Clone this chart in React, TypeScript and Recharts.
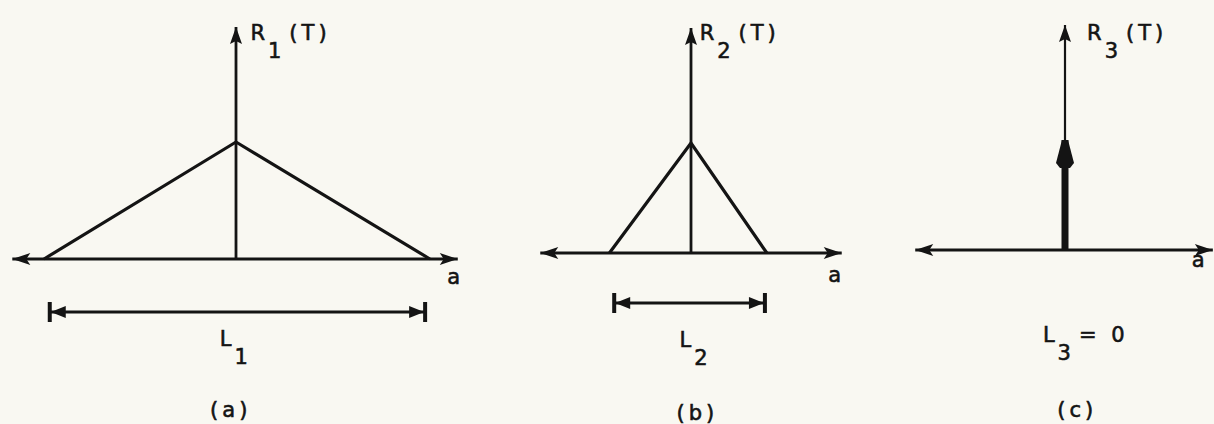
import React from "react"
import { LineChart, Line, XAxis, YAxis } from "recharts"

// R(τ) sketches for three widths L; a is the lag axis, r the correlation value
type Pt = { a: number; r: number; head?: string }
type Lbl = { a: number; r: number; main: string; sub?: string; tail?: string }

// (a) wide triangle
const triangle1: Pt[] = [{ a: -2.0, r: 0 }, { a: 0, r: 1.17 }, { a: 2.02, r: 0 }]
const axisX1: Pt[] = [{ a: -2.33, r: 0, head: "left" }, { a: 2.31, r: 0, head: "right" }]
const axisY1: Pt[] = [{ a: 0, r: 0 }, { a: 0, r: 2.32, head: "up" }]
const span1: Pt[] = [{ a: -1.94, r: -0.53, head: "barL" }, { a: 1.97, r: -0.53, head: "barR" }]

// (b) narrow triangle
const triangle2: Pt[] = [{ a: -0.85, r: 0 }, { a: 0, r: 1.1 }, { a: 0.79, r: 0 }]
const axisX2: Pt[] = [{ a: -1.57, r: 0, head: "left" }, { a: 1.57, r: 0, head: "right" }]
const axisY2: Pt[] = [{ a: 0, r: 0 }, { a: 0, r: 2.25, head: "up" }]
const span2: Pt[] = [{ a: -0.8, r: -0.5, head: "barL" }, { a: 0.77, r: -0.5, head: "barR" }]

// (c) impulse, L3 = 0
const spike3: Pt[] = [{ a: 0, r: 0 }, { a: 0, r: 1.1, head: "spike" }]
const axisX3: Pt[] = [{ a: -1.56, r: 0, head: "left" }, { a: 1.54, r: 0, head: "right" }]
const axisY3: Pt[] = [{ a: 0, r: 0 }, { a: 0, r: 2.25, head: "up" }]

const labels1: Lbl[] = [
  { a: 0.15, r: 2.19, main: "R", sub: "1", tail: "(T)" },
  { a: 2.2, r: -0.25, main: "a" },
  { a: -0.17, r: -0.87, main: "L", sub: "1" },
  { a: -0.27, r: -1.58, main: "(a)" },
]
const labels2: Lbl[] = [
  { a: 0.09, r: 2.13, main: "R", sub: "2", tail: "(T)" },
  { a: 1.43, r: -0.29, main: "a" },
  { a: -0.12, r: -0.94, main: "L", sub: "2" },
  { a: -0.15, r: -1.67, main: "(b)" },
]
const labels3: Lbl[] = [
  { a: 0.23, r: 2.1, main: "R", sub: "3", tail: "(T)" },
  { a: 1.32, r: -0.17, main: "a" },
  { a: -0.23, r: -0.92, main: "L", sub: "3", tail: "= 0" },
  { a: -0.08, r: -1.67, main: "(c)" },
]

const SX = 96
const SY = 100
const H = 424
const INK = "#141414"
const FONT = "'DejaVu Sans', sans-serif"

const renderHead = (props: any) => {
  const { cx, cy, payload, index } = props
  const k = `h-${index}-${cx}-${cy}`
  const h = payload?.head
  if (!h || cx == null || cy == null) return <g key={k} />
  if (h === "right")
    return <polygon key={k} points={`${cx},${cy} ${cx - 18},${cy - 6} ${cx - 14},${cy} ${cx - 18},${cy + 6}`} fill={INK} />
  if (h === "left")
    return <polygon key={k} points={`${cx},${cy} ${cx + 18},${cy - 6} ${cx + 14},${cy} ${cx + 18},${cy + 6}`} fill={INK} />
  if (h === "up")
    return <polygon key={k} points={`${cx},${cy} ${cx - 6},${cy + 17} ${cx},${cy + 14} ${cx + 6},${cy + 17}`} fill={INK} />
  if (h === "spike")
    return (
      <polygon
        key={k}
        points={`${cx - 3},${cy} ${cx + 3},${cy} ${cx + 9},${cy + 23} ${cx + 5},${cy + 28} ${cx - 5},${cy + 28} ${cx - 9},${cy + 23}`}
        fill={INK}
      />
    )
  const dir = h === "barL" ? 1 : -1
  return (
    <g key={k}>
      <line x1={cx} y1={cy - 10} x2={cx} y2={cy + 10} stroke={INK} strokeWidth={4} />
      <polygon points={`${cx + dir},${cy} ${cx + dir * 16},${cy - 6} ${cx + dir * 16},${cy + 6}`} fill={INK} />
    </g>
  )
}

const renderLabel = (props: any) => {
  const { cx, cy, payload, index } = props
  const k = `l-${index}`
  if (cx == null || cy == null) return <g key={k} />
  const p = payload as Lbl
  return (
    <text
      key={k}
      x={cx}
      y={cy}
      fontFamily={FONT}
      fontSize={21}
      fill={INK}
      stroke={INK}
      strokeWidth={0.6}
      letterSpacing={p.sub || p.main.length > 1 ? 4 : 0}
    >
      {p.main}
      {p.sub && (
        <tspan dx={-1} dy={18}>
          {p.sub}
        </tspan>
      )}
      {p.tail && (
        <tspan dx={4} dy={-18}>
          {p.tail}
        </tspan>
      )}
    </text>
  )
}

function Panel({ left, width, ox, oy, series, labels }: any) {
  const xd = [-ox / SX, (width - ox) / SX]
  const yd = [-(H - oy) / SY, oy / SY]
  return (
    <div style={{ position: "absolute", left, top: 0 }}>
      <LineChart width={width} height={H} margin={{ top: 0, right: 0, bottom: 0, left: 0 }}>
        <XAxis type="number" dataKey="a" domain={xd} hide allowDataOverflow />
        <YAxis type="number" domain={yd} hide allowDataOverflow />
        {series.map((s: any, i: number) => (
          <Line
            key={i}
            data={s.data}
            dataKey="r"
            type="linear"
            stroke={INK}
            strokeWidth={s.w}
            dot={renderHead}
            activeDot={false}
            isAnimationActive={false}
          />
        ))}
        <Line
          data={labels}
          dataKey="r"
          stroke="none"
          dot={renderLabel}
          activeDot={false}
          isAnimationActive={false}
        />
      </LineChart>
    </div>
  )
}

export default function App() {
  return (
    <div style={{ position: "absolute", left: 0, top: 0, width: 1214, height: H, background: "#f9f8f2", overflow: "hidden" }}>
      <Panel
        left={0}
        width={470}
        ox={236}
        oy={259}
        series={[
          { data: axisX1, w: 2.8 },
          { data: axisY1, w: 2.8 },
          { data: triangle1, w: 3.2 },
          { data: span1, w: 3.2 },
        ]}
        labels={labels1}
      />
      <Panel
        left={520}
        width={340}
        ox={171}
        oy={253}
        series={[
          { data: axisX2, w: 2.8 },
          { data: axisY2, w: 2.8 },
          { data: triangle2, w: 3.2 },
          { data: span2, w: 3.2 },
        ]}
        labels={labels2}
      />
      <Panel
        left={880}
        width={334}
        ox={185}
        oy={250}
        series={[
          { data: axisX3, w: 2.8 },
          { data: axisY3, w: 2.2 },
          { data: spike3, w: 7 },
        ]}
        labels={labels3}
      />
    </div>
  )
}
